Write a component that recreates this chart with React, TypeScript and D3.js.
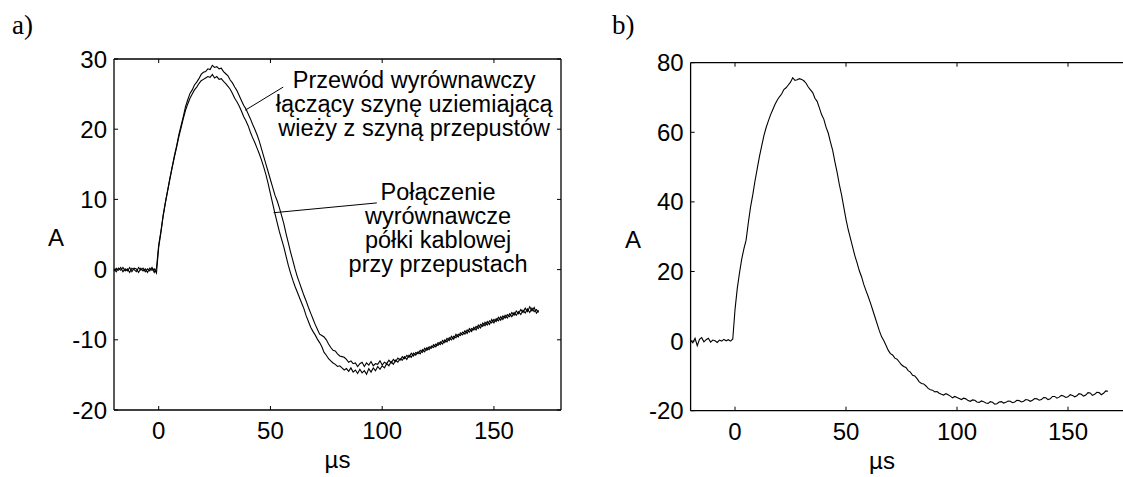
import React from "react";
import * as d3 from "d3";

// ---------- data (time in µs, current in A) ----------
const xTicks = [0, 50, 100, 150];
const yTicksA = [-20, -10, 0, 10, 20, 30];
const yTicksB = [-20, 0, 20, 40, 60, 80];

// a) Przewód wyrównawczy (outer curve, higher peak)
const seriesPrzewod: [number, number][] = [
  [-20,0.1],[-19,-0.3],[-18,0.2],[-17,-0.1],[-16,0.3],[-15,-0.2],[-14,0.1],[-13,-0.4],[-12,0.2],[-11,0.0],[-10,-0.3],[-9,0.3],[-8,-0.1],[-7,0.2],[-6,-0.3],[-5,0.1],[-4,-0.2],[-3,0.3],[-2,-0.4],[-1,0.2],
  [0,3.5],[1,5.5],[2,7.8],[3,9.6],[4,11.3],[5,13.0],[6,14.6],[7,16.2],[8,17.6],[9,19.2],[10,20.5],[11,21.8],[12,23.2],[13,24.2],[14,25.1],[15,25.6],[16,26.3],[17,26.7],[18,27.2],[19,27.8],[20,28.1],[21,28.2],[22,28.6],[23,28.5],[24,29.1],[25,28.8],[26,28.9],[27,28.6],[28,28.7],[29,28.2],[30,27.9],[31,27.6],[32,27.0],[33,26.6],[34,26.0],[35,25.5],[36,24.8],[37,24.1],[38,23.4],[39,22.9],[40,22.2],[41,21.5],[42,20.7],[43,20.0],[44,19.2],[45,18.3],[46,17.2],[47,16.1],[48,15.0],[49,13.9],[50,12.8],[51,11.7],[52,10.6],[53,9.8],[54,8.8],[55,7.7],[56,6.5],[57,5.1],[58,3.8],[59,2.5],[60,1.3],[61,0.1],[62,-1.0],[63,-1.9],[64,-2.8],[65,-3.7],[66,-4.5],[67,-5.4],[68,-6.2],[69,-7.0],[70,-7.8],[71,-8.5],[72,-9.2],[73,-9.4],[74,-9.6],[75,-10.0],[76,-10.6],[77,-11.1],[78,-11.5],[79,-11.6],[80,-12.0],[81,-12.3],[82,-12.4],[83,-12.5],[84,-12.8],[85,-13.2],[86,-13.0],[87,-13.4],[88,-13.3],[89,-13.8],[90,-13.4],[91,-13.2],[92,-13.8],[93,-13.3],[94,-13.6],[95,-13.1],[96,-13.7],[97,-13.4],[98,-13.5],[99,-13.0],[100,-13.6],[101,-13.2],[102,-13.4],[103,-12.9],[104,-13.3],[105,-12.8],[106,-13.1],[107,-12.6],[108,-12.9],[109,-12.4],[110,-12.7],[111,-12.2],[112,-12.5],[113,-11.9],[114,-12.3],[115,-11.8],[116,-12.0],[117,-11.5],[118,-11.8],[119,-11.2],[120,-11.5],[121,-11.0],[122,-11.2],[123,-10.7],[124,-11.0],[125,-10.4],[126,-10.7],[127,-10.1],[128,-10.4],[129,-9.8],[130,-10.1],[131,-9.5],[132,-9.9],[133,-9.2],[134,-9.6],[135,-9.0],[136,-9.3],[137,-8.7],[138,-9.1],[139,-8.4],[140,-8.8],[141,-8.2],[142,-8.6],[143,-7.9],[144,-8.3],[145,-7.6],[146,-8.0],[147,-7.4],[148,-7.8],[149,-7.1],[150,-7.6],[151,-7.0],[152,-7.3],[153,-6.7],[154,-7.1],[155,-6.5],[156,-6.9],[157,-6.3],[158,-6.7],[159,-6.1],[160,-6.5],[161,-6.0],[162,-6.4],[163,-5.8],[164,-6.2],[165,-5.6],[166,-6.1],[167,-5.5],[168,-6.0],[169,-5.7],[170,-6.1]
];

// a) Połączenie wyrównawcze (inner curve)
const seriesPolaczenie: [number, number][] = [
  [-20,-0.2],[-19,0.2],[-18,-0.1],[-17,0.3],[-16,-0.3],[-15,0.1],[-14,-0.2],[-13,0.3],[-12,-0.3],[-11,0.2],[-10,0.1],[-9,-0.4],[-8,0.2],[-7,-0.2],[-6,0.1],[-5,-0.4],[-4,0.2],[-3,-0.1],[-2,0.1],[-1,-0.5],
  [0,3.2],[1,5.3],[2,7.6],[3,9.5],[4,11.2],[5,12.9],[6,14.5],[7,16.0],[8,17.4],[9,18.9],[10,20.2],[11,21.5],[12,22.7],[13,23.6],[14,24.4],[15,25.0],[16,25.6],[17,26.0],[18,26.5],[19,26.9],[20,27.1],[21,27.3],[22,27.5],[23,27.4],[24,27.8],[25,27.3],[26,27.5],[27,27.1],[28,27.2],[29,26.8],[30,26.5],[31,26.1],[32,25.7],[33,25.1],[34,24.4],[35,23.9],[36,23.3],[37,22.6],[38,21.8],[39,21.2],[40,20.5],[41,19.6],[42,18.8],[43,18.1],[44,17.3],[45,16.5],[46,15.6],[47,14.6],[48,13.5],[49,12.2],[50,10.8],[51,9.4],[52,8.0],[53,6.7],[54,5.4],[55,4.3],[56,3.2],[57,1.9],[58,0.6],[59,-0.5],[60,-1.5],[61,-2.4],[62,-3.2],[63,-4.0],[64,-4.8],[65,-5.6],[66,-6.6],[67,-7.4],[68,-8.2],[69,-8.8],[70,-9.3],[71,-9.9],[72,-10.4],[73,-11.0],[74,-11.8],[75,-12.2],[76,-12.7],[77,-13.0],[78,-13.3],[79,-13.5],[80,-13.8],[81,-13.7],[82,-14.0],[83,-14.3],[84,-14.1],[85,-14.5],[86,-14.0],[87,-14.6],[88,-14.3],[89,-14.8],[90,-14.2],[91,-14.7],[92,-14.4],[93,-14.9],[94,-14.1],[95,-14.6],[96,-14.0],[97,-14.4],[98,-13.8],[99,-14.2],[100,-13.7],[101,-14.0],[102,-13.4],[103,-13.7],[104,-13.1],[105,-13.5],[106,-12.9],[107,-13.2],[108,-12.7],[109,-12.9],[110,-12.4],[111,-12.8],[112,-12.2],[113,-12.5],[114,-11.9],[115,-12.2],[116,-11.7],[117,-12.0],[118,-11.4],[119,-11.7],[120,-11.1],[121,-11.4],[122,-10.9],[123,-11.1],[124,-10.6],[125,-10.8],[126,-10.3],[127,-10.6],[128,-10.0],[129,-10.3],[130,-9.7],[131,-10.0],[132,-9.5],[133,-9.7],[134,-9.2],[135,-9.4],[136,-8.9],[137,-9.2],[138,-8.6],[139,-8.9],[140,-8.4],[141,-8.6],[142,-8.1],[143,-8.4],[144,-7.8],[145,-8.1],[146,-7.5],[147,-7.9],[148,-7.3],[149,-7.6],[150,-7.1],[151,-7.4],[152,-6.8],[153,-7.2],[154,-6.6],[155,-6.9],[156,-6.4],[157,-6.7],[158,-6.1],[159,-6.5],[160,-5.9],[161,-6.3],[162,-5.7],[163,-6.1],[164,-5.5],[165,-6.0],[166,-5.3],[167,-5.9],[168,-5.4],[169,-6.2],[170,-5.8]
];

// b) single waveform
const seriesB: [number, number][] = [
  [-20,0.2],[-19,-0.5],[-18,0.8],[-17,-1.3],[-16,0.5],[-15,1.0],[-14,-0.2],[-13,0.4],[-12,0.8],[-11,-0.3],[-10,0.3],[-9,0.1],[-8,-0.4],[-7,0.3],[-6,0.0],[-5,0.5],[-4,0.1],[-3,0.4],[-2,0.0],[-1,0.6],
  [0,9.0],[1,15.0],[2,19.5],[3,23.5],[4,26.5],[5,29.0],[6,34.0],[7,38.5],[8,42.0],[9,46.0],[10,49.5],[11,53.0],[12,56.0],[13,59.0],[14,61.3],[15,63.2],[16,65.0],[17,66.5],[18,68.0],[19,69.2],[20,70.2],[21,71.0],[22,72.3],[23,72.8],[24,73.6],[25,74.4],[26,75.7],[27,74.9],[28,75.1],[29,75.4],[30,75.2],[31,74.8],[32,74.1],[33,73.0],[34,72.2],[35,71.4],[36,69.8],[37,68.9],[38,67.0],[39,65.1],[40,63.8],[41,61.5],[42,59.8],[43,57.2],[44,54.8],[45,51.5],[46,48.5],[47,45.0],[48,42.0],[49,38.5],[50,35.0],[51,32.0],[52,29.5],[53,27.0],[54,24.5],[55,22.5],[56,20.2],[57,18.5],[58,16.3],[59,14.5],[60,12.8],[61,11.0],[62,9.0],[63,7.0],[64,5.0],[65,3.0],[66,1.3],[67,0.2],[68,-1.2],[69,-2.6],[70,-3.6],[71,-4.0],[72,-4.9],[73,-5.2],[74,-6.0],[75,-6.8],[76,-7.3],[77,-7.6],[78,-8.5],[79,-8.9],[80,-9.8],[81,-10.0],[82,-10.8],[83,-11.7],[84,-12.2],[85,-12.3],[86,-12.9],[87,-13.6],[88,-14.0],[89,-14.1],[90,-14.6],[91,-14.5],[92,-15.0],[93,-15.3],[94,-15.5],[95,-15.1],[96,-15.4],[97,-15.8],[98,-16.3],[99,-15.9],[100,-16.2],[101,-16.5],[102,-16.8],[103,-16.4],[104,-16.6],[105,-17.1],[106,-17.3],[107,-16.9],[108,-17.0],[109,-17.5],[110,-17.6],[111,-17.2],[112,-17.4],[113,-17.8],[114,-17.9],[115,-17.4],[116,-17.6],[117,-18.1],[118,-18.0],[119,-17.5],[120,-17.4],[121,-17.8],[122,-17.6],[123,-17.2],[124,-17.3],[125,-17.7],[126,-17.5],[127,-17.0],[128,-17.1],[129,-17.5],[130,-17.3],[131,-16.8],[132,-16.9],[133,-17.3],[134,-17.0],[135,-16.5],[136,-16.6],[137,-17.0],[138,-16.8],[139,-16.2],[140,-16.3],[141,-16.8],[142,-16.6],[143,-15.9],[144,-15.9],[145,-16.4],[146,-16.1],[147,-15.6],[148,-15.8],[149,-16.2],[150,-16.0],[151,-15.4],[152,-15.6],[153,-16.0],[154,-15.7],[155,-15.1],[156,-15.3],[157,-15.8],[158,-15.5],[159,-14.8],[160,-14.9],[161,-15.6],[162,-15.3],[163,-14.7],[164,-14.8],[165,-15.4],[166,-15.0],[167,-14.3],[168,-14.4]
];

const annotation1 = ["Przewód wyrównawczy", "łączący szynę uziemiającą", "wieży z szyną przepustów"];
const annotation2 = ["Połączenie", "wyrównawcze", "półki kablowej", "przy przepustach"];

const FONT = "'Liberation Sans', Arial, Helvetica, sans-serif";
const SERIF = "'Liberation Serif', 'Times New Roman', serif";

type Scale = d3.ScaleLinear<number, number>;

function Frame({ x, y, yTicks, rightSide }: { x: Scale; y: Scale; yTicks: number[]; rightSide: boolean }) {
  const [x0, x1] = x.range();
  const [yb, yt] = y.range();
  const tl = 4;
  return (
    <g stroke="#000" fill="none">
      <line x1={x0} x2={x1} y1={yt} y2={yt} strokeWidth={1.3} />
      <line x1={x0} x2={x1} y1={yb} y2={yb} strokeWidth={1.3} />
      <line x1={x0} x2={x0} y1={yt} y2={yb} strokeWidth={1.3} />
      {rightSide && <line x1={x1} x2={x1} y1={yt} y2={yb} strokeWidth={1.3} />}
      {xTicks.map((t) => (
        <g key={"xt" + t}>
          <line x1={x(t)} x2={x(t)} y1={yb} y2={yb - tl} strokeWidth={1} />
          <line x1={x(t)} x2={x(t)} y1={yt} y2={yt + tl} strokeWidth={1} />
        </g>
      ))}
      {yTicks.map((v) => (
        <g key={"yt" + v}>
          <line x1={x0} x2={x0 + tl} y1={y(v)} y2={y(v)} strokeWidth={1} />
          {rightSide && <line x1={x1} x2={x1 - tl} y1={y(v)} y2={y(v)} strokeWidth={1} />}
        </g>
      ))}
    </g>
  );
}

function Labels({ x, y, yTicks, muX, aX }: { x: Scale; y: Scale; yTicks: number[]; muX: number; aX: number }) {
  const [x0] = x.range();
  const [yb, yt] = y.range();
  return (
    <g fontFamily={FONT} fontSize={24} fill="#000">
      {xTicks.map((t) => (
        <text key={"xl" + t} x={x(t)} y={yb + 29} textAnchor="middle">{t}</text>
      ))}
      {yTicks.map((v) => (
        <text key={"yl" + v} x={x0 - 7} y={y(v) + 8.5} textAnchor="end">{v}</text>
      ))}
      <text x={muX} y={yb + 58} textAnchor="middle">µs</text>
      <text x={aX} y={(yb + yt) / 2 + 11} textAnchor="middle">A</text>
    </g>
  );
}

export default function App() {
  const xa = d3.scaleLinear().domain([-20, 180]).range([114, 561]);
  const ya = d3.scaleLinear().domain([-20, 30]).range([410, 59]);
  const xb = d3.scaleLinear().domain([-20, 180]).range([690.6, 1134.6]);
  const yb = d3.scaleLinear().domain([-20, 80]).range([410.7, 62.7]);

  const lineA = d3.line<[number, number]>().x((d) => xa(d[0])).y((d) => ya(d[1]));
  const lineB = d3.line<[number, number]>().x((d) => xb(d[0])).y((d) => yb(d[1]));

  // annotation anchors in data units
  const ann1 = { t: 114.3, v: 25.9 };
  const ann2 = { t: 125, v: 9.9 };
  const lead1: [number, number][] = [[55.7, 26.0], [38.7, 22.7]];
  const lead2: [number, number][] = [[97.6, 9.5], [51.4, 8.1]];

  return (
    <svg width={1123} height={477} style={{ position: "absolute", left: 0, top: 0, background: "#fff" }}>
      <rect x={0} y={0} width={1123} height={477} fill="#fff" />
      <text x={12} y={34} fontFamily={SERIF} fontSize={27}>a)</text>
      <text x={612} y={34} fontFamily={SERIF} fontSize={27}>b)</text>

      {/* plot a */}
      <path d={lineA(seriesPolaczenie) || ""} fill="none" stroke="#000" strokeWidth={1.1} />
      <path d={lineA(seriesPrzewod) || ""} fill="none" stroke="#000" strokeWidth={1.1} />
      <Frame x={xa} y={ya} yTicks={yTicksA} rightSide={true} />
      <Labels x={xa} y={ya} yTicks={yTicksA} muX={337.5} aX={56} />
      <g fontFamily={FONT} fontSize={23.5} fill="#000" textAnchor="middle">
        {annotation1.map((s, i) => (
          <text key={"a1" + i} x={xa(ann1.t)} y={ya(ann1.v) + i * 24}>{s}</text>
        ))}
        {annotation2.map((s, i) => (
          <text key={"a2" + i} x={xa(ann2.t)} y={ya(ann2.v) + i * 24}>{s}</text>
        ))}
      </g>
      <line x1={xa(lead1[0][0])} y1={ya(lead1[0][1])} x2={xa(lead1[1][0])} y2={ya(lead1[1][1])} stroke="#000" strokeWidth={1} />
      <line x1={xa(lead2[0][0])} y1={ya(lead2[0][1])} x2={xa(lead2[1][0])} y2={ya(lead2[1][1])} stroke="#000" strokeWidth={1} />

      {/* plot b */}
      <path d={lineB(seriesB) || ""} fill="none" stroke="#000" strokeWidth={1.1} />
      <Frame x={xb} y={yb} yTicks={yTicksB} rightSide={false} />
      <Labels x={xb} y={yb} yTicks={yTicksB} muX={882} aX={633} />
    </svg>
  );
}
